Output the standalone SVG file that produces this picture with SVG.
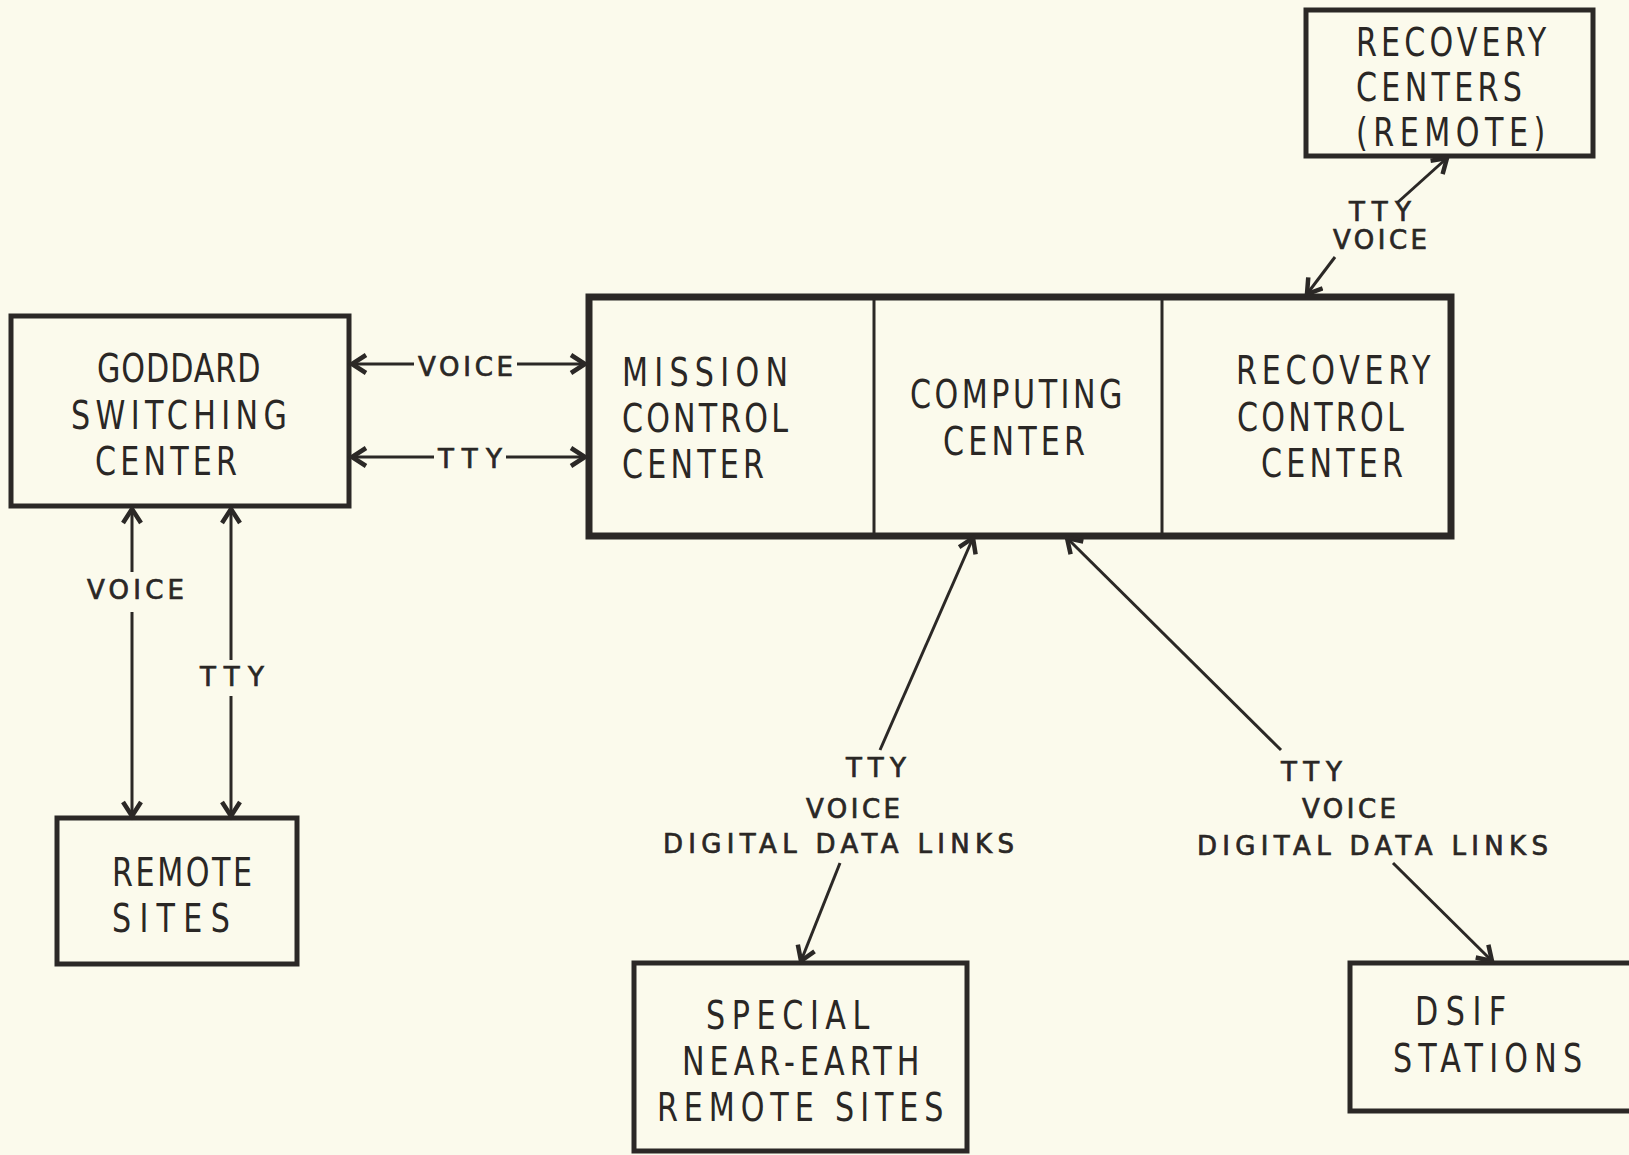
<svg xmlns="http://www.w3.org/2000/svg" width="1629" height="1155" viewBox="0 0 1629 1155">
<defs>
<style>
.box{fill:none;stroke:#2b2826;stroke-width:5}
.big{fill:none;stroke:#2b2826;stroke-width:7}
.div{stroke:#2b2826;stroke-width:3}
.bt{font-family:"DejaVu Sans Condensed","DejaVu Sans",sans-serif;font-stretch:condensed;font-size:39px;fill:#2a2725}
.lb{font-family:"DejaVu Sans",sans-serif;font-size:26px;fill:#2a2725;stroke:#2a2725;stroke-width:0.7}
.cn{stroke:#2b2826;stroke-width:3;fill:none;marker-end:url(#ah)}
</style>
<marker id="ah" markerUnits="userSpaceOnUse" markerWidth="24" markerHeight="22" refX="18" refY="11" orient="auto" viewBox="0 0 24 22">
<path d="M4,2 L18,11 L4,20" fill="none" stroke="#2b2826" stroke-width="4.5" stroke-linejoin="miter"/>
</marker>
</defs>
<rect width="1629" height="1155" fill="#fbfaec"/>

<g id="goddard">
<rect class="box" x="11" y="316" width="338" height="190"/>
<text class="bt" transform="translate(97 382) scale(0.86 1)" textLength="190" lengthAdjust="spacing">GODDARD</text>
<text class="bt" transform="translate(71 429) scale(0.86 1)" textLength="251" lengthAdjust="spacing">SWITCHING</text>
<text class="bt" transform="translate(95 475) scale(0.86 1)" textLength="165" lengthAdjust="spacing">CENTER</text>
</g>

<g id="control-block">
<rect class="big" x="589" y="297" width="862" height="239"/>
<line class="div" x1="874" y1="297" x2="874" y2="536"/>
<line class="div" x1="1162" y1="297" x2="1162" y2="536"/>
</g>

<g id="mission-control">
<text class="bt" transform="translate(622 386) scale(0.86 1)" textLength="193" lengthAdjust="spacing">MISSION</text>
<text class="bt" transform="translate(622 432) scale(0.86 1)" textLength="193" lengthAdjust="spacing">CONTROL</text>
<text class="bt" transform="translate(622 478) scale(0.86 1)" textLength="165" lengthAdjust="spacing">CENTER</text>
</g>

<g id="computing-center">
<text class="bt" transform="translate(910 408) scale(0.86 1)" textLength="247" lengthAdjust="spacing">COMPUTING</text>
<text class="bt" transform="translate(943 455) scale(0.86 1)" textLength="165" lengthAdjust="spacing">CENTER</text>
</g>

<g id="recovery-control">
<text class="bt" transform="translate(1236 384) scale(0.86 1)" textLength="226" lengthAdjust="spacing">RECOVERY</text>
<text class="bt" transform="translate(1237 431) scale(0.86 1)" textLength="194" lengthAdjust="spacing">CONTROL</text>
<text class="bt" transform="translate(1261 477) scale(0.86 1)" textLength="165" lengthAdjust="spacing">CENTER</text>
</g>

<g id="recovery-centers">
<rect class="box" x="1306" y="10" width="287" height="146"/>
<text class="bt" transform="translate(1356 56) scale(0.86 1)" textLength="221" lengthAdjust="spacing">RECOVERY</text>
<text class="bt" transform="translate(1356 101) scale(0.86 1)" textLength="193" lengthAdjust="spacing">CENTERS</text>
<text class="bt" transform="translate(1356 146) scale(0.86 1)" textLength="220" lengthAdjust="spacing">(REMOTE)</text>
</g>

<g id="remote-sites">
<rect class="box" x="57" y="818" width="240" height="146"/>
<text class="bt" transform="translate(112 886) scale(0.86 1)" textLength="163" lengthAdjust="spacing">REMOTE</text>
<text class="bt" transform="translate(112 932) scale(0.86 1)" textLength="137" lengthAdjust="spacing">SITES</text>
</g>

<g id="special-sites">
<rect class="box" x="634" y="963" width="333" height="188"/>
<text class="bt" transform="translate(706 1029) scale(0.86 1)" textLength="190" lengthAdjust="spacing">SPECIAL</text>
<text class="bt" transform="translate(682 1075) scale(0.86 1)" textLength="276" lengthAdjust="spacing">NEAR-EARTH</text>
<text class="bt" transform="translate(657 1121) scale(0.86 1)" textLength="333" lengthAdjust="spacing">REMOTE SITES</text>
</g>

<g id="dsif">
<rect class="box" x="1350" y="963" width="290" height="148"/>
<text class="bt" transform="translate(1415 1025) scale(0.86 1)" textLength="106" lengthAdjust="spacing">DSIF</text>
<text class="bt" transform="translate(1393 1072) scale(0.86 1)" textLength="220" lengthAdjust="spacing">STATIONS</text>
</g>

<g id="connectors">
<line class="cn" x1="414" y1="364" x2="352" y2="364"/>
<line class="cn" x1="517" y1="364" x2="585" y2="364"/>
<line class="cn" x1="434" y1="457" x2="352" y2="457"/>
<line class="cn" x1="506" y1="457" x2="585" y2="457"/>
<line class="cn" x1="132" y1="572" x2="132" y2="509"/>
<line class="cn" x1="132" y1="612" x2="132" y2="816"/>
<line class="cn" x1="231" y1="660" x2="231" y2="509"/>
<line class="cn" x1="231" y1="696" x2="231" y2="816"/>
<line class="cn" x1="1397" y1="203" x2="1447" y2="158"/>
<line class="cn" x1="1335" y1="257" x2="1307" y2="294"/>
<line class="cn" x1="880" y1="750" x2="973" y2="538"/>
<line class="cn" x1="840" y1="863" x2="801" y2="961"/>
<line class="cn" x1="1281" y1="750" x2="1067" y2="538"/>
<line class="cn" x1="1393" y1="863" x2="1492" y2="961"/>
<text class="lb" x="418" y="376" textLength="95" lengthAdjust="spacing">VOICE</text>
<text class="lb" x="438" y="468" textLength="64" lengthAdjust="spacing">TTY</text>
<text class="lb" x="87" y="599" textLength="97" lengthAdjust="spacing">VOICE</text>
<text class="lb" x="200" y="686" textLength="64" lengthAdjust="spacing">TTY</text>
<text class="lb" x="1349" y="221" textLength="62" lengthAdjust="spacing">TTY</text>
<text class="lb" x="1333" y="249" textLength="94" lengthAdjust="spacing">VOICE</text>
<text class="lb" x="846" y="777" textLength="60" lengthAdjust="spacing">TTY</text>
<text class="lb" x="806" y="818" textLength="94" lengthAdjust="spacing">VOICE</text>
<text class="lb" x="663" y="853" textLength="351" lengthAdjust="spacing">DIGITAL DATA LINKS</text>
<text class="lb" x="1281" y="781" textLength="61" lengthAdjust="spacing">TTY</text>
<text class="lb" x="1302" y="818" textLength="94" lengthAdjust="spacing">VOICE</text>
<text class="lb" x="1197" y="855" textLength="351" lengthAdjust="spacing">DIGITAL DATA LINKS</text>
</g>
</svg>
